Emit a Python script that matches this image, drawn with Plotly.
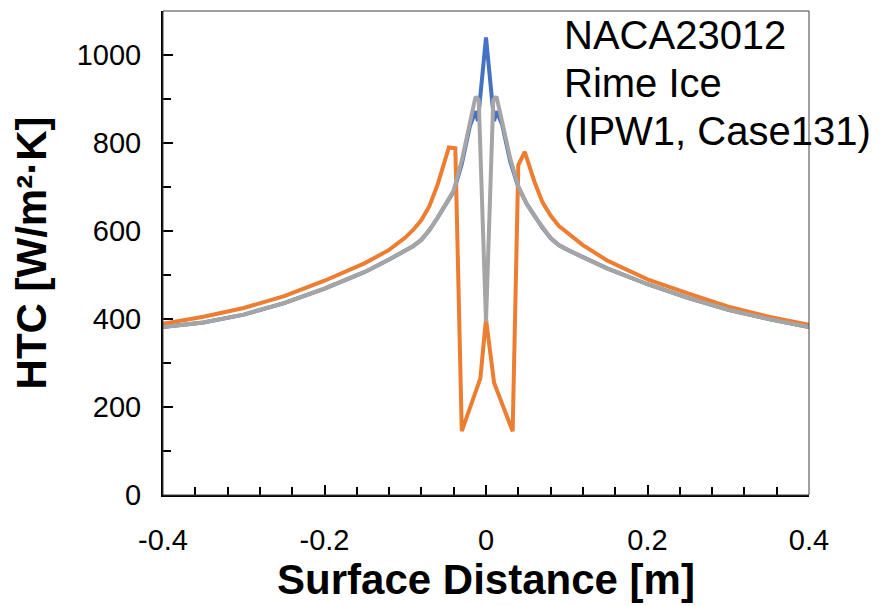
import plotly.graph_objects as go

# ---- data ----
x_blue = [-0.4, -0.35, -0.3, -0.25, -0.2, -0.15, -0.12, -0.1, -0.09, -0.08, -0.07, -0.06, -0.05, -0.04,
          -0.03, -0.02, -0.013, -0.01, 0.0, 0.01, 0.013, 0.02, 0.03, 0.04, 0.05, 0.06, 0.07,
          0.08, 0.09, 0.1, 0.12, 0.15, 0.2, 0.25, 0.3, 0.35, 0.4]
htc_blue = [382, 392, 410, 436, 469, 507, 535, 555, 566, 580, 602, 630, 660, 690,
            752, 838, 872, 850, 1040, 850, 872, 842, 758, 700, 663, 634, 607,
            584, 568, 558, 540, 515, 479, 448, 421, 400, 382]

x_orange = [-0.4, -0.35, -0.3, -0.25, -0.2, -0.15, -0.12, -0.1, -0.09, -0.08, -0.07, -0.06, -0.046,
            -0.038, -0.03, -0.007, 0.0, 0.01, 0.033, 0.04, 0.048, 0.06, 0.07, 0.08, 0.09, 0.1,
            0.12, 0.15, 0.2, 0.25, 0.3, 0.35, 0.4]
htc_orange = [389, 405, 425, 452, 487, 527, 557, 585, 603, 625, 657, 705, 790,
              788, 145, 265, 400, 255, 145, 750, 780, 712, 665, 635, 612, 598,
              568, 533, 490, 458, 428, 405, 387]

x_gray = [-0.4, -0.35, -0.3, -0.25, -0.2, -0.15, -0.12, -0.1, -0.09, -0.08, -0.07, -0.06, -0.05, -0.04,
          -0.03, -0.02, -0.013, -0.009, 0.0, 0.009, 0.013, 0.02, 0.03, 0.04, 0.05, 0.06, 0.07,
          0.08, 0.09, 0.1, 0.12, 0.15, 0.2, 0.25, 0.3, 0.35, 0.4]
htc_gray = [382, 392, 410, 436, 469, 507, 535, 555, 566, 580, 602, 630, 660, 692,
            760, 845, 905, 898, 394, 898, 905, 848, 765, 702, 663, 634, 607,
            584, 568, 558, 540, 515, 479, 448, 421, 400, 382]

x_ticks = [-0.4, -0.2, 0, 0.2, 0.4]
x_tick_text = ["-0.4", "-0.2", "0", "0.2", "0.4"]
y_ticks = [0, 200, 400, 600, 800, 1000]

label_lines = ["NACA23012", "Rime Ice", "(IPW1, Case131)"]

FONT = "Liberation Sans, Arial, sans-serif"

fig = go.Figure()
fig.add_trace(go.Scatter(x=x_blue, y=htc_blue, mode="lines",
                         line=dict(color="#4472C4", width=4), showlegend=False))
fig.add_trace(go.Scatter(x=x_orange, y=htc_orange, mode="lines",
                         line=dict(color="#ED7D31", width=4), showlegend=False))
fig.add_trace(go.Scatter(x=x_gray, y=htc_gray, mode="lines",
                         line=dict(color="#A5A5A5", width=4), showlegend=False))

fig.update_layout(
    width=894, height=606,
    margin=dict(l=163, r=85, t=11, b=109),
    plot_bgcolor="white", paper_bgcolor="white",
    font=dict(family=FONT, color="black", size=29),
)

fig.update_xaxes(
    range=[-0.4, 0.4], tickvals=x_ticks, ticktext=x_tick_text,
    ticks="inside", ticklen=10, tickwidth=2, tickcolor="black",
    minor=dict(dtick=0.04, ticks="inside", ticklen=8, tickwidth=1.5, tickcolor="black"),
    showgrid=False, zeroline=False,
    showline=True, linecolor="black", linewidth=2,
    tickfont=dict(size=29), ticklabelstandoff=18,
    title=dict(text="Surface Distance [m]", font=dict(size=42, weight="bold"), standoff=10),
)
fig.update_yaxes(
    range=[0, 1100], tickvals=y_ticks,
    ticks="inside", ticklen=10, tickwidth=2, tickcolor="black",
    minor=dict(dtick=100, ticks="inside", ticklen=8, tickwidth=1.5, tickcolor="black"),
    showgrid=False, zeroline=False,
    showline=True, linecolor="black", linewidth=2,
    tickfont=dict(size=29), ticklabelstandoff=14,
    title=dict(text="HTC [W/m²·K]", font=dict(size=42, weight="bold"), standoff=17),
)

# thin frame on top and right
fig.add_shape(type="rect", xref="x domain", yref="y domain", x0=0, x1=1, y0=0, y1=1,
              line=dict(color="#404040", width=1), layer="above")

ys = [0.951, 0.852, 0.753]
for txt, yy in zip(label_lines, ys):
    fig.add_annotation(text=txt, xref="paper", yref="paper", x=0.618, y=yy,
                       xanchor="left", yanchor="middle", showarrow=False,
                       font=dict(size=40, family=FONT, color="black"))

fig.write_html("out.html")
